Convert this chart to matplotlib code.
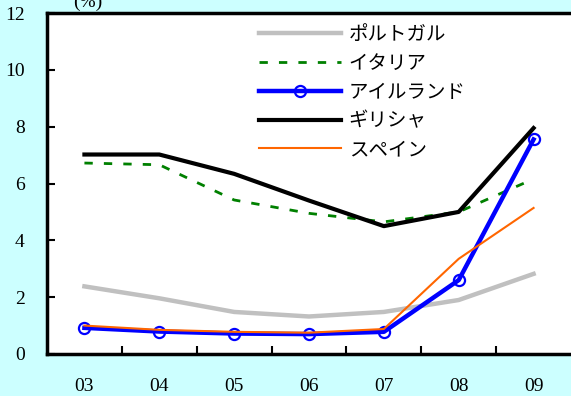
import matplotlib
matplotlib.use("Agg")
import matplotlib.pyplot as plt
import numpy as np

years = ["03", "04", "05", "06", "07", "08", "09"]
portugal = [2.38, 1.96, 1.48, 1.32, 1.48, 1.9, 2.82]
italy = [6.72, 6.66, 5.42, 4.95, 4.65, 5.0, 6.16]
ireland = [0.92, 0.79, 0.72, 0.7, 0.78, 2.6, 7.55]
greece = [7.02, 7.02, 6.34, 5.4, 4.5, 5.0, 7.95]
spain = [1.0, 0.85, 0.78, 0.75, 0.88, 3.35, 5.14]
series_names = ["ポルトガル", "イタリア", "アイルランド", "ギリシャ", "スペイン"]

bg = "#ccffff"
jp_font = ["Noto Sans CJK JP", "DejaVu Sans"]
num_font = "Liberation Serif"

fig = plt.figure(figsize=(5.71, 3.96), dpi=100, facecolor=bg)
ax = fig.add_axes([47 / 571, 1 - 354 / 396, 524 / 571, 341 / 396])
ax.set_facecolor("white")

x = np.arange(len(years))
ax.plot(x, portugal, color="#c0c0c0", lw=3.2, label=series_names[0])
ax.plot(x, italy, color="#008000", lw=2, ls=(0, (3, 4)), label=series_names[1])
ax.plot(x, ireland, color="#0000ff", lw=3.2, marker="o", ms=8,
        mfc="none", mec="#0000ff", mew=1.6, label=series_names[2])
ax.plot(x, greece, color="black", lw=3, label=series_names[3])
ax.plot(x, spain, color="#ff6600", lw=1.5, label=series_names[4])

ax.set_xlim(-0.5, 6.5)
ax.set_ylim(0, 12)

# ticks between categories, labels at category centres
ax.set_xticks(x[:-1] + 0.5)
ax.set_xticklabels([])
ax.set_xticks(x, minor=True)
ax.set_xticklabels(years, minor=True, fontfamily=num_font, fontsize=14)
ax.tick_params(axis="x", which="major", direction="in", length=6, width=1.5)
ax.tick_params(axis="x", which="minor", length=0, pad=17)

ax.set_yticks(np.arange(0, 13, 2))
ax.set_yticklabels([str(v) for v in range(0, 13, 2)], fontfamily=num_font, fontsize=14)
ax.tick_params(axis="y", direction="in", length=6, width=1.5, pad=16)

for side in ["left", "bottom", "top"]:
    ax.spines[side].set_linewidth(2.5)
ax.spines["right"].set_visible(False)

fig.text(88 / 571, 0.995, "(%)", fontfamily=num_font, fontsize=14,
         ha="center", va="center")

leg = ax.legend(loc="upper left", bbox_to_anchor=(0.39, 0.99), frameon=False,
                prop={"family": jp_font, "size": 14}, handlelength=4.2,
                handletextpad=0.4, labelspacing=0.4, borderaxespad=0.0)

fig.savefig("out.png", dpi=100, facecolor=bg)
